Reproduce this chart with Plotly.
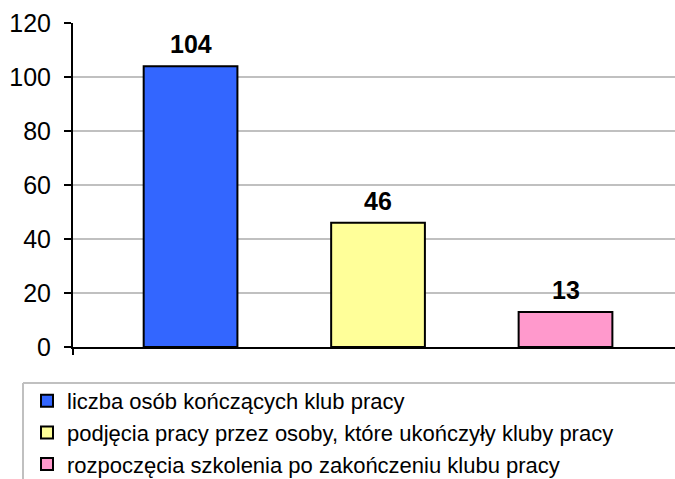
import plotly.graph_objects as go

categories = ["A", "B", "C"]
values = [104, 46, 13]
names = [
    "liczba osób kończących klub pracy",
    "podjęcia pracy przez osoby, które ukończyły kluby pracy",
    "rozpoczęcia szkolenia po zakończeniu klubu pracy",
]
colors = ["#3366FF", "#FFFF99", "#FF99CC"]
y_ticks = [0, 20, 40, 60, 80, 100, 120]

FONT = "Liberation Sans, Arial, sans-serif"

fig = go.Figure()
for cat, val, name, col in zip(categories, values, names, colors):
    fig.add_trace(go.Bar(
        x=[cat], y=[val], name=name, width=0.5,
        marker=dict(color=col, line=dict(color="black", width=2)),
    ))
    fig.add_annotation(
        x=cat, y=val, text=f"<b>{val}</b>", showarrow=False,
        yanchor="bottom", yshift=6,
        font=dict(family=FONT, size=25, color="black"),
    )

W, H = 675, 479
ml, mr, mt, mb = 73, 0, 23, 132
pw, ph = W - ml - mr, H - mt - mb

def px(x):
    return (x - ml) / pw

def py(y):
    return (H - mb - y) / ph

shapes = [
    # legend box top and left borders
    dict(type="line", xref="paper", yref="paper", x0=px(23), x1=1.02, y0=py(383), y1=py(383),
         line=dict(color="#c0c0c0", width=2)),
    dict(type="line", xref="paper", yref="paper", x0=px(23), x1=px(23), y0=py(383), y1=py(490),
         line=dict(color="#c0c0c0", width=2)),
    # small tick below axis origin
    dict(type="line", xref="paper", yref="paper", x0=0, x1=0, y0=0, y1=py(355),
         line=dict(color="black", width=2)),
]

fig.update_layout(
    width=W, height=H,
    margin=dict(l=ml, r=mr, t=mt, b=mb, autoexpand=False),
    plot_bgcolor="white", paper_bgcolor="white",
    barmode="overlay",
    font=dict(family=FONT, color="black"),
    showlegend=True,
    legend=dict(
        x=px(27), y=py(380), xanchor="left", yanchor="top",
        font=dict(family=FONT, size=22, color="black"),
        bgcolor="rgba(0,0,0,0)", borderwidth=0,
        traceorder="normal", itemwidth=30,
    ),
    shapes=shapes,
)
fig.update_xaxes(
    range=[-0.627, 2.584], showticklabels=False, showgrid=False,
    showline=True, linecolor="black", linewidth=2, ticks="", zeroline=False,
    fixedrange=True,
)
fig.update_yaxes(
    range=[0, 120], tickvals=y_ticks, showgrid=True, gridcolor="#c0c0c0", gridwidth=2,
    showline=True, linecolor="black", linewidth=2, ticks="outside", ticklen=7,
    tickcolor="black", tickwidth=2, zeroline=False, ticklabelstandoff=8,
    tickfont=dict(family=FONT, size=25, color="black"),
)

fig.write_html(
    "out.html",
    config={"displayModeBar": False},
    post_script="document.body.style.margin='0';document.body.style.overflow='hidden';",
)
